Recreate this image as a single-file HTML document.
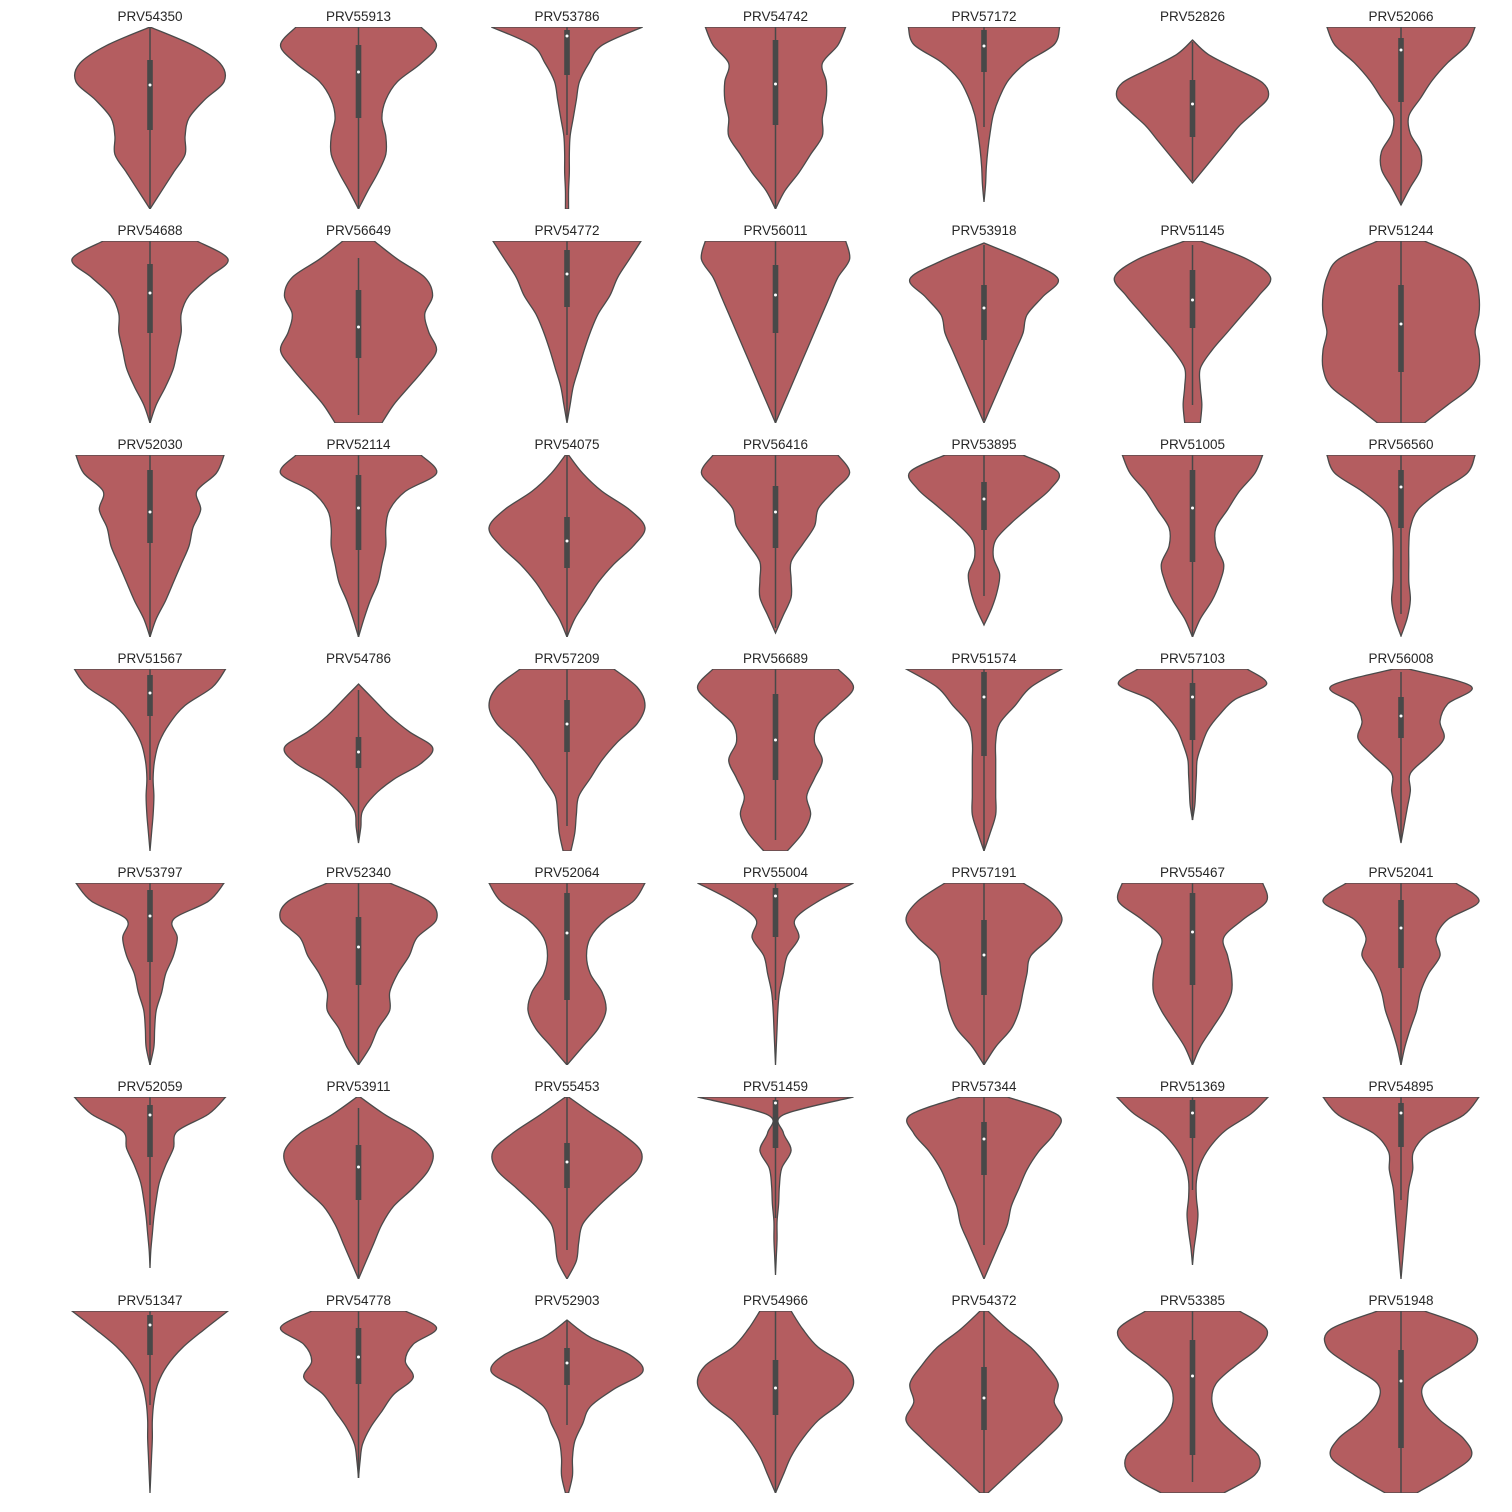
<!DOCTYPE html>
<html><head><meta charset="utf-8"><style>
html,body{margin:0;padding:0;background:#fff;}
svg{display:block;font-family:"Liberation Sans",Arial,sans-serif;}
</style></head><body>
<svg id="chart" width="1512" height="1512" viewBox="0 0 1512 1512" xmlns="http://www.w3.org/2000/svg"></svg>
<script>
const names=["PRV54350","PRV55913","PRV53786","PRV54742","PRV57172","PRV52826","PRV52066",
"PRV54688","PRV56649","PRV54772","PRV56011","PRV53918","PRV51145","PRV51244",
"PRV52030","PRV52114","PRV54075","PRV56416","PRV53895","PRV51005","PRV56560",
"PRV51567","PRV54786","PRV57209","PRV56689","PRV51574","PRV57103","PRV56008",
"PRV53797","PRV52340","PRV52064","PRV55004","PRV57191","PRV55467","PRV52041",
"PRV52059","PRV53911","PRV55453","PRV51459","PRV57344","PRV51369","PRV54895",
"PRV51347","PRV54778","PRV52903","PRV54966","PRV54372","PRV53385","PRV51948"];
const widths=[
[0,0.55,0.9,0.95,0.7,0.5,0.45,0.45,0.3,0.15,0],
[0.8,1.0,0.8,0.5,0.35,0.3,0.35,0.35,0.25,0.12,0],
[0.97,0.45,0.28,0.16,0.12,0.08,0.04,0.03,0.03,0.02,0.02],
[0.9,0.8,0.6,0.65,0.65,0.6,0.6,0.45,0.3,0.12,0],
[0.97,0.9,0.55,0.32,0.2,0.12,0.08,0.05,0.03,0.02,0],
[0,0.2,0.55,0.9,0.97,0.8,0.6,0.45,0.3,0.15,0],
[0.95,0.85,0.6,0.4,0.25,0.1,0.12,0.25,0.25,0.12,0],
[0.6,1.0,0.75,0.5,0.4,0.4,0.35,0.3,0.2,0.08,0],
[0.2,0.5,0.85,0.95,0.85,0.9,1.0,0.85,0.65,0.45,0.3],
[0.95,0.8,0.65,0.55,0.4,0.3,0.22,0.15,0.08,0.04,0],
[0.9,0.95,0.8,0.7,0.6,0.5,0.4,0.3,0.2,0.1,0],
[0,0.55,0.95,0.75,0.55,0.5,0.4,0.3,0.2,0.1,0],
[0.1,0.7,1.0,0.85,0.65,0.45,0.25,0.1,0.1,0.12,0.1],
[0.3,0.8,0.95,1.0,1.0,0.95,1.0,1.0,0.9,0.6,0.3],
[0.95,0.85,0.6,0.65,0.55,0.5,0.4,0.3,0.2,0.08,0],
[0.8,1.0,0.6,0.4,0.35,0.35,0.3,0.25,0.15,0.07,0],
[0.02,0.2,0.45,0.8,1.0,0.85,0.6,0.4,0.25,0.1,0],
[0.8,0.95,0.75,0.55,0.5,0.35,0.2,0.2,0.2,0.1,0],
[0.5,0.95,0.85,0.6,0.35,0.15,0.12,0.2,0.17,0.1,0],
[0.9,0.8,0.6,0.45,0.3,0.3,0.4,0.35,0.25,0.1,0],
[0.95,0.85,0.5,0.22,0.12,0.1,0.1,0.1,0.12,0.08,0],
[0.97,0.8,0.45,0.25,0.12,0.06,0.04,0.05,0.04,0.02,0],
[0,0.2,0.4,0.65,0.95,0.8,0.45,0.2,0.05,0.03,0],
[0.6,0.9,1.0,0.9,0.65,0.45,0.3,0.15,0.12,0.1,0.05],
[0.8,1.0,0.8,0.55,0.5,0.6,0.5,0.4,0.45,0.35,0.15],
[1.0,0.6,0.4,0.2,0.15,0.15,0.15,0.15,0.15,0.08,0],
[0.7,0.95,0.55,0.35,0.2,0.12,0.06,0.05,0.04,0.03,0],
[0.1,0.9,0.6,0.5,0.55,0.35,0.12,0.12,0.08,0.04,0],
[0.95,0.75,0.3,0.35,0.3,0.2,0.15,0.08,0.06,0.05,0],
[0.4,0.9,1.0,0.75,0.65,0.5,0.4,0.4,0.25,0.15,0],
[1.0,0.85,0.5,0.3,0.25,0.3,0.45,0.5,0.4,0.2,0],
[1.0,0.55,0.25,0.3,0.15,0.1,0.05,0.03,0.02,0.01,0],
[0.5,0.85,1.0,0.85,0.6,0.55,0.5,0.45,0.35,0.15,0],
[0.9,0.95,0.65,0.4,0.45,0.5,0.5,0.4,0.25,0.1,0],
[0.7,1.0,0.6,0.45,0.5,0.35,0.25,0.2,0.12,0.05,0],
[0.97,0.75,0.35,0.3,0.2,0.12,0.08,0.05,0.03,0.01,0],
[0.02,0.35,0.75,0.95,0.9,0.7,0.45,0.3,0.2,0.1,0],
[0.02,0.35,0.7,0.95,0.9,0.65,0.4,0.2,0.15,0.12,0],
[1.0,0.1,0.1,0.2,0.08,0.05,0.04,0.02,0.02,0.01,0],
[0.3,0.95,0.9,0.7,0.55,0.45,0.35,0.3,0.2,0.1,0],
[0.97,0.75,0.42,0.22,0.1,0.05,0.05,0.07,0.05,0.02,0],
[1.0,0.8,0.35,0.16,0.15,0.1,0.08,0.06,0.04,0.02,0],
[1.0,0.7,0.42,0.22,0.1,0.05,0.03,0.03,0.02,0.01,0],
[0.6,1.0,0.7,0.6,0.7,0.45,0.3,0.15,0.05,0.02,0],
[0,0.3,0.8,0.97,0.6,0.3,0.2,0.1,0.07,0.07,0.02],
[0.2,0.35,0.55,0.9,1.0,0.85,0.55,0.35,0.2,0.1,0],
[0.05,0.3,0.6,0.8,0.95,0.9,1.0,0.8,0.55,0.3,0.05],
[0.6,0.95,0.85,0.55,0.3,0.25,0.35,0.6,0.85,0.8,0.4],
[0.3,0.9,0.95,0.65,0.3,0.3,0.5,0.8,0.9,0.6,0.2]];
const tops=[0,0,0,0,0,13,0, 0,0,0,0,2,0,0, 0,0,0,0,0,0,0, 0,15,0,0,0,0,0, 0,0,0,0,0,0,0, 0,0,0,0,0,0,0, 0,0,9,0,0,0,0];
const bottoms=[182,182,182,182,175,156,178, 182,182,182,182,182,182,182, 182,182,182,178,170,182,181, 182,174,182,182,182,151,174, 182,182,182,182,182,182,182, 171,182,182,178,182,168,182, 182,167,182,182,182,182,182];
const whiskLo=[0,0,0,0,0,15,0, 0,17,0,0,4,4,0, 0,0,0,0,0,0,0, 0,21,0,0,0,0,3, 0,0,0,0,0,0,0, 0,11,0,0,0,0,0, 0,0,9,0,0,0,0];
const q3s=[33,18,3,13,3,53,11, 23,49,9,24,44,29,44, 15,20,62,31,27,15,15, 6,68,31,25,3,14,28, 7,34,10,5,37,10,17, 8,48,46,3,25,3,6, 4,17,37,49,56,29,39];
const medians=[58,45,9,57,19,77,23, 52,86,33,54,67,59,83, 57,53,86,57,44,53,32, 24,83,55,71,28,28,47, 33,64,50,13,72,49,45, 18,70,65,6,42,16,16, 14,46,52,77,87,65,70];
const q1s=[103,91,48,98,45,110,75, 92,117,66,92,99,87,131, 88,95,113,93,75,107,73, 47,99,83,111,87,71,69, 79,102,117,54,112,102,85, 60,103,91,51,78,41,50, 44,73,74,104,119,144,137];
const whiskHi=[182,182,108,182,100,154,178, 182,174,179,182,179,164,182, 182,182,182,173,141,182,159, 111,169,157,171,182,151,171, 182,182,182,117,182,182,182, 128,182,153,121,148,93,103, 94,167,114,182,182,171,182];

const svg=document.getElementById('chart');
const NS='http://www.w3.org/2000/svg';
const colX=c=>150+c*208.5;
const rowTop=r=>27+r*214;
const AX_H=182, HALF_W=78;
const yScale=(r,v)=>rowTop(r)+v/182*AX_H;
const wScale=w=>Math.max(0,w)*HALF_W;

function spline(pts){
  let d='';
  for(let i=0;i<pts.length-1;i++){
    const p0=pts[Math.max(0,i-1)],p1=pts[i],p2=pts[i+1],p3=pts[Math.min(pts.length-1,i+2)];
    const c1=[p1[0]+(p2[0]-p0[0])/6,p1[1]+(p2[1]-p0[1])/6];
    const c2=[p2[0]-(p3[0]-p1[0])/6,p2[1]-(p3[1]-p1[1])/6];
    d+=`C${c1[0].toFixed(2)},${c1[1].toFixed(2)} ${c2[0].toFixed(2)},${c2[1].toFixed(2)} ${p2[0].toFixed(2)},${p2[1].toFixed(2)}`;
  }
  return d;
}

names.forEach((nm,i)=>{
  const r=Math.floor(i/7), c=i%7, cx=colX(c), y0=rowTop(r);
  const g=document.createElementNS(NS,'g');
  
  
  svg.appendChild(g);
  const cp=document.createElementNS(NS,'clipPath');
  cp.setAttribute('id','clip'+i);
  const cr=document.createElementNS(NS,'rect');
  cr.setAttribute('x',cx-110);cr.setAttribute('y',y0);cr.setAttribute('width',220);cr.setAttribute('height',AX_H);
  cp.appendChild(cr);g.appendChild(cp);

  const t=document.createElementNS(NS,'text');
  
  
  t.setAttribute('x',cx);t.setAttribute('y',y0-6);
  t.setAttribute('text-anchor','middle');t.setAttribute('font-size','13.5');t.setAttribute('fill','#262626');
  t.textContent=nm;g.appendChild(t);

  const ws=widths[i], n=ws.length, top=tops[i], bot=bottoms[i];
  const right=ws.map((w,k)=>[cx+wScale(w),yScale(r,top+(bot-top)*k/(n-1))]);
  const left=ws.map((w,k)=>[cx-wScale(w),yScale(r,top+(bot-top)*k/(n-1))]).reverse();
  let d=`M${cx},${right[0][1]}L${right[0][0]},${right[0][1]}`+spline(right)+
        `L${cx},${right[n-1][1]}L${left[0][0]},${left[0][1]}`+spline(left)+'Z';
  const p=document.createElementNS(NS,'path');
  
  
  p.setAttribute('d',d);p.setAttribute('fill','#b45d60');p.setAttribute('stroke','#4a4a4a');
  p.setAttribute('stroke-width','1.3');p.setAttribute('clip-path',`url(#clip${i})`);
  g.appendChild(p);

  const wl=document.createElementNS(NS,'line');
  
  
  wl.setAttribute('x1',cx);wl.setAttribute('x2',cx);
  wl.setAttribute('y1',yScale(r,whiskLo[i]));wl.setAttribute('y2',yScale(r,whiskHi[i]));
  wl.setAttribute('stroke','#484848');wl.setAttribute('stroke-width','1.5');
  g.appendChild(wl);

  const bx=document.createElementNS(NS,'rect');
  
  
  bx.setAttribute('x',cx-2.8);bx.setAttribute('width',5.6);
  bx.setAttribute('y',yScale(r,q3s[i]));bx.setAttribute('height',yScale(r,q1s[i])-yScale(r,q3s[i]));
  bx.setAttribute('fill','#484848');
  g.appendChild(bx);

  const md=document.createElementNS(NS,'circle');
  
  
  md.setAttribute('cx',cx);md.setAttribute('cy',yScale(r,medians[i]));md.setAttribute('r',1.5);
  md.setAttribute('fill','#ffffff');
  g.appendChild(md);
});
</script>
</body></html>
